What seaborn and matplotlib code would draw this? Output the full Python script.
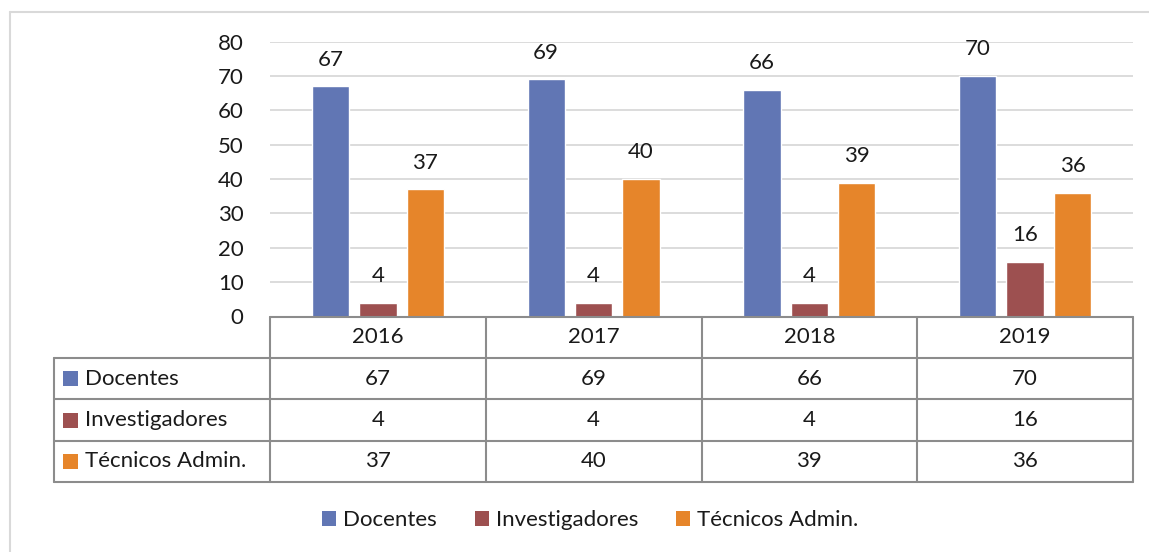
import matplotlib
matplotlib.use("Agg")
import matplotlib.pyplot as plt
import matplotlib.transforms as mtransforms
from matplotlib.lines import Line2D
from matplotlib.patches import Patch, Rectangle
import seaborn as sns
import pandas as pd

# ---- data ----
years = ["2016", "2017", "2018", "2019"]
series = ["Docentes", "Investigadores", "Técnicos Admin."]
docentes = [67, 69, 66, 70]
investigadores = [4, 4, 4, 16]
tecnicos = [37, 40, 39, 36]
colors = ["#6176b4", "#9d5050", "#e6852a"]
yticks = [0, 10, 20, 30, 40, 50, 60, 70, 80]

values = [docentes, investigadores, tecnicos]
rows = []
for s, vals in zip(series, values):
    for y, v in zip(years, vals):
        rows.append({"Año": y, "Serie": s, "Valor": v})
df = pd.DataFrame(rows)

sns.set_theme(style="white")
FONT = "Lato"
plt.rcParams["font.family"] = [FONT, "DejaVu Sans"]
FS = 16

W, H = 1149, 552
fig = plt.figure(figsize=(W / 100, H / 100), dpi=100)
ax = fig.add_axes([270 / W, 1 - 316.5 / H, (1133 - 270) / W, (316.5 - 41.7) / H])

sns.barplot(data=df, x="Año", y="Valor", hue="Serie", order=years, hue_order=series,
            palette=colors, width=0.66, gap=0.215, ax=ax, legend=False,
            saturation=1, errorbar=None)

for c in ax.containers:
    ax.bar_label(c, padding=12, fontsize=FS, color="#1a1a1a")

ax.set_xlim(-0.5, len(years) - 0.5)
ax.set_ylim(0, 80)
ax.set_yticks(yticks)
ax.set_yticklabels([str(t) for t in yticks], fontsize=FS, color="#1a1a1a")
ax.tick_params(axis="y", length=0, pad=19)
ax.set_xticks([])
ax.set_xlabel("")
ax.set_ylabel("")
ax.yaxis.grid(True, color="#d9d9d9", lw=1.3)
ax.set_axisbelow(True)
for sp in ax.spines.values():
    sp.set_visible(False)

# ---- data table ----
trans = mtransforms.blended_transform_factory(ax.transData, ax.transAxes)
rh = 41.4 / (316.5 - 41.7)
lc = "#8c8c8c"
lw = 1.5
n = len(years)
def hline(x0, x1, y):
    ax.add_line(Line2D([x0, x1], [y, y], transform=trans, color=lc, lw=lw, clip_on=False))
def vline(x, y0, y1):
    ax.add_line(Line2D([x, x], [y0, y1], transform=trans, color=lc, lw=lw, clip_on=False))

hline(-0.5, n - 0.5, 0)
for k in range(1, 5):
    hline(-1.5, n - 0.5, -k * rh)
vline(-1.5, -rh, -4 * rh)
for k in range(n + 1):
    vline(-0.5 + k, 0, -4 * rh)

for i, y in enumerate(years):
    ax.text(i, -0.5 * rh, y, transform=trans, ha="center", va="center",
            fontsize=FS, color="#1a1a1a")
for r, (s, vals, col) in enumerate(zip(series, values, colors)):
    yc = -(r + 1.5) * rh
    for i, v in enumerate(vals):
        ax.text(i, yc, str(v), transform=trans, ha="center", va="center",
                fontsize=FS, color="#1a1a1a")
    # colored key square + label
    sq = 15 / 215.75
    sqh = 15 / (316.5 - 41.7)
    ax.add_patch(Rectangle((-1.5 + 9 / 215.75, yc - sqh / 2), sq, sqh, transform=trans,
                           facecolor=col, edgecolor="none", clip_on=False))
    ax.text(-1.5 + 31 / 215.75, yc, s, transform=trans, ha="left", va="center",
            fontsize=FS, color="#1a1a1a")

# ---- legend ----
handles = [Patch(facecolor=c, edgecolor="none", label=s) for s, c in zip(series, colors)]
fig.legend(handles=handles, loc="center", bbox_to_anchor=(590 / W, 1 - 520 / H),
           ncol=3, frameon=False, fontsize=FS, handlelength=0.65, handleheight=0.65,
           handletextpad=0.3, columnspacing=1.7, labelcolor="#1a1a1a")

# ---- outer border ----
fig.add_artist(Line2D([9.5 / W, 1], [1 - 12 / H, 1 - 12 / H], transform=fig.transFigure,
                      color="#d9d9d9", lw=1.5))
fig.add_artist(Line2D([9.5 / W, 9.5 / W], [1 - 12 / H, 0], transform=fig.transFigure,
                      color="#d9d9d9", lw=1.5))

fig.savefig("out.png", dpi=100, facecolor="white")
